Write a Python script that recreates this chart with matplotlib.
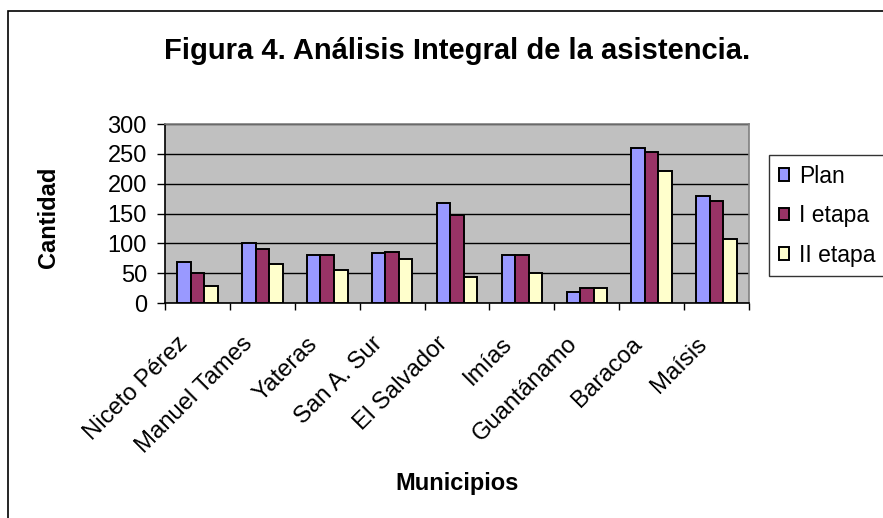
import matplotlib
matplotlib.use("Agg")
import matplotlib.pyplot as plt
import matplotlib.transforms as mtransforms
from matplotlib.patches import Rectangle
import numpy as np

plt.rcParams["font.family"] = ["Liberation Sans", "DejaVu Sans"]

# ---- Data ----
MUNICIPIOS = ["Niceto Pérez", "Manuel Tames", "Yateras", "San A. Sur", "El Salvador",
              "Imías", "Guantánamo", "Baracoa", "Maísis"]
PLAN = [68, 100, 80, 84, 167, 80, 19, 259, 179]
ETAPA_I = [50, 90, 80, 86, 148, 80, 25, 253, 171]
ETAPA_II = [28, 65, 55, 74, 43, 50, 25, 222, 108]
SERIES = ["Plan", "I etapa", "II etapa"]
COLORS = ["#9999FF", "#993366", "#FFFFCC"]
Y_TICKS = [0, 50, 100, 150, 200, 250, 300]

W, H = 883, 518
fig = plt.figure(figsize=(W / 100, H / 100), dpi=100)
ax = fig.add_axes([165 / W, 1 - 303 / H, 584 / W, 179 / H])
ax.set_facecolor("#C0C0C0")

x = np.arange(len(MUNICIPIOS))
bw = 0.625 / 3
for k, (vals, name, col) in enumerate(zip([PLAN, ETAPA_I, ETAPA_II], SERIES, COLORS)):
    ax.bar(x + (k - 1) * bw, vals, width=bw, color=col, edgecolor="black",
           linewidth=1.4, label=name, zorder=3)

ax.set_xlim(-0.5, len(MUNICIPIOS) - 0.5)
ax.set_ylim(0, 300)
ax.set_yticks(Y_TICKS)
ax.yaxis.grid(True, color="black", linewidth=1.0, zorder=1)
ax.set_axisbelow(True)

ax.tick_params(axis="y", direction="out", length=6, width=1, labelsize=17, pad=7)
ax.set_xticks(x)
ax.set_xticks(np.arange(-0.5, len(MUNICIPIOS), 1.0), minor=True)
ax.tick_params(axis="x", which="major", length=0, pad=27)
ax.tick_params(axis="x", which="minor", length=5, width=1, direction="out")
ax.set_xticklabels(MUNICIPIOS, rotation=45, ha="right", va="center",
                   rotation_mode="anchor", fontsize=17.2)
shift = mtransforms.ScaledTranslation(-13 / 100, 0, fig.dpi_scale_trans)
for lab in ax.get_xticklabels():
    lab.set_transform(lab.get_transform() + shift)

for side in ["top", "right"]:
    ax.spines[side].set_color("#808080")
for side in ["left", "bottom"]:
    ax.spines[side].set_color("black")
for sp in ax.spines.values():
    sp.set_linewidth(1.2)

ax.set_ylabel("Cantidad", fontsize=17, fontweight="bold")
ax.yaxis.set_label_coords(-(165 - 60) / 584, 0.48)
ax.set_xlabel("Municipios", fontsize=17, fontweight="bold")
ax.xaxis.set_label_coords(0.5, -(472 - 303) / 179)

fig.text(457 / W, 1 - 51 / H, "Figura 4. Análisis Integral de la asistencia.",
         ha="center", va="center", fontsize=21, fontweight="bold")

leg = fig.legend(loc="upper left", bbox_to_anchor=(769 / W, 1 - 155 / H),
                 fontsize=16.5, frameon=True, fancybox=False, shadow=False,
                 handlelength=0.45, handleheight=0.45, handletextpad=0.45,
                 labelspacing=0.72, borderpad=0.42, borderaxespad=0)
leg.get_frame().set_edgecolor("black")
leg.get_frame().set_linewidth(1.0)

# outer chart border (left and top edges visible)
fig.patches.append(Rectangle((8 / W, -0.5), 2, (1 - 11 / H) + 0.5, transform=fig.transFigure,
                             fill=False, edgecolor="black", linewidth=1.2))

fig.savefig("out.png", dpi=100)
